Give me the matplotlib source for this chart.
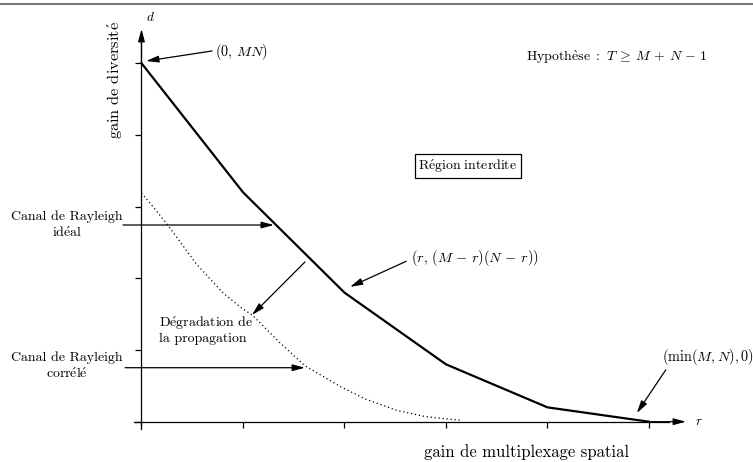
import numpy as np
import matplotlib.pyplot as plt
from matplotlib.lines import Line2D

plt.rcParams['font.family'] = ['cmr10', 'DejaVu Serif']
plt.rcParams['mathtext.fontset'] = 'cm'
plt.rcParams['axes.unicode_minus'] = False

# tradeoff optimal (canal de Rayleigh idéal), points entiers
r_ideal = [0, 1, 2, 3, 4, 5]
d_ideal = [5, 3.2, 1.8, 0.8, 0.2, 0]

# canal corrélé (courbe pointillée)
r_corr = [0, 0.13, 0.26, 0.54, 0.8, 0.99, 1.09, 1.35, 1.61, 1.96, 2.2, 2.51, 2.8, 3.14]
d_corr = [3.19, 2.97, 2.74, 2.2, 1.8, 1.58, 1.49, 1.12, 0.78, 0.49, 0.32, 0.16, 0.07, 0.02]

xticks = [0, 1, 2, 3, 4, 5]
yticks = [0, 1, 2, 3, 4, 5]

FS = 10    # texte
FM = 10.3  # formules


def tex(s):
    # cmr10 n'a pas d'accents : passer par mathtext
    s = s.replace(' ', '\\ ').replace('é', '\\acute{e}').replace('è', '\\grave{e}')
    return '$\\mathrm{' + s + '}$'


fig = plt.figure(figsize=(7.53, 4.62), dpi=100)
ax = fig.add_axes([0, 0, 1, 1])
ax.set_xlim(-1.394, 6.025)
ax.set_ylim(-0.562, 5.881)

ax.plot(r_ideal, d_ideal, color='black', lw=1.6, solid_joinstyle='miter')
ax.plot(r_corr, d_corr, color='black', lw=0.9, linestyle=(0, (1, 2.2)))

# axes au milieu
for s in ['top', 'right']:
    ax.spines[s].set_visible(False)
ax.spines['left'].set_position(('data', 0))
ax.spines['bottom'].set_position(('data', 0))
ax.spines['left'].set_bounds(-0.1, 5.3)
ax.spines['bottom'].set_bounds(-0.07, 5.2)
for s in ['left', 'bottom']:
    ax.spines[s].set_linewidth(0.9)
ax.set_xticks(xticks)
ax.set_yticks(yticks)
ax.set_xticklabels([])
ax.set_yticklabels([])
ax.tick_params(direction='out', length=4.5, width=0.9)
ax.patch.set_visible(False)

arr = dict(arrowstyle='-|>,head_length=0.75,head_width=0.2', color='black',
           lw=0.9, mutation_scale=10, shrinkA=0, shrinkB=0)
ax.annotate('', xy=(5.365, 0), xytext=(5.0, 0), arrowprops=arr)
ax.annotate('', xy=(0, 5.477), xytext=(0, 5.0), arrowprops=arr)
ax.text(0.04, 5.64, '$d$', fontsize=9.5, ha='left', va='center')
ax.text(5.45, 0, '$r$', fontsize=9.5, ha='left', va='center')

ax.text(-0.26, 4.76, tex('gain de diversité'), rotation=90, fontsize=11.8,
        ha='center', va='center')
ax.text(3.79, -0.418, 'gain de multiplexage spatial', fontsize=12,
        ha='center', va='center')

ax.text(3.788, 5.076, tex('Hypothèse :') + ' $T \\:\\geq\\: M \\,+\\, N \\,-\\, 1$',
        fontsize=FS, ha='left', va='center')
ax.text(3.217, 3.566, tex('Région interdite'), fontsize=FS, ha='center', va='center',
        bbox=dict(boxstyle='square,pad=0.25', fc='white', ec='black', lw=0.9))

# annotations
ax.text(0.724, 5.15, '$(0,\\, MN)$', fontsize=FM, ha='left', va='center')
ax.annotate('', xy=(0.045, 5.03), xytext=(0.695, 5.17), arrowprops=arr)

ax.text(-0.733, 2.86, 'Canal de Rayleigh', fontsize=FS, ha='center', va='center')
ax.text(-0.733, 2.64, tex('idéal'), fontsize=FS, ha='center', va='center')
ax.annotate('', xy=(1.305, 2.743), xytext=(-0.182, 2.743), arrowprops=arr)

ax.text(-0.733, 0.89, 'Canal de Rayleigh', fontsize=FS, ha='center', va='center')
ax.text(-0.733, 0.67, tex('corrélé'), fontsize=FS, ha='center', va='center')
ax.annotate('', xy=(1.611, 0.753), xytext=(-0.162, 0.753), arrowprops=arr)

ax.text(0.177, 1.37, tex('Dégradation de'), fontsize=FS, ha='left', va='center')
ax.text(0.177, 1.15, 'la propagation', fontsize=FS, ha='left', va='center')
ax.annotate('', xy=(1.089, 1.488), xytext=(1.611, 2.228), arrowprops=arr)

ax.text(2.655, 2.279, '$(r,\\, (M \\,-\\, r)(N \\,-\\, r))$', fontsize=FM,
        ha='left', va='center')
ax.annotate('', xy=(2.054, 1.88), xytext=(2.608, 2.237), arrowprops=arr)

ax.text(5.13, 0.898, '$(\\min(M,N),0)$', fontsize=FM, ha='left', va='center')
ax.annotate('', xy=(4.88, 0.12), xytext=(5.165, 0.721), arrowprops=arr)

fig.add_artist(Line2D([0, 1], [0.991, 0.991], transform=fig.transFigure,
                      color='#777777', lw=1.5))

fig.savefig('out.png', dpi=100)
